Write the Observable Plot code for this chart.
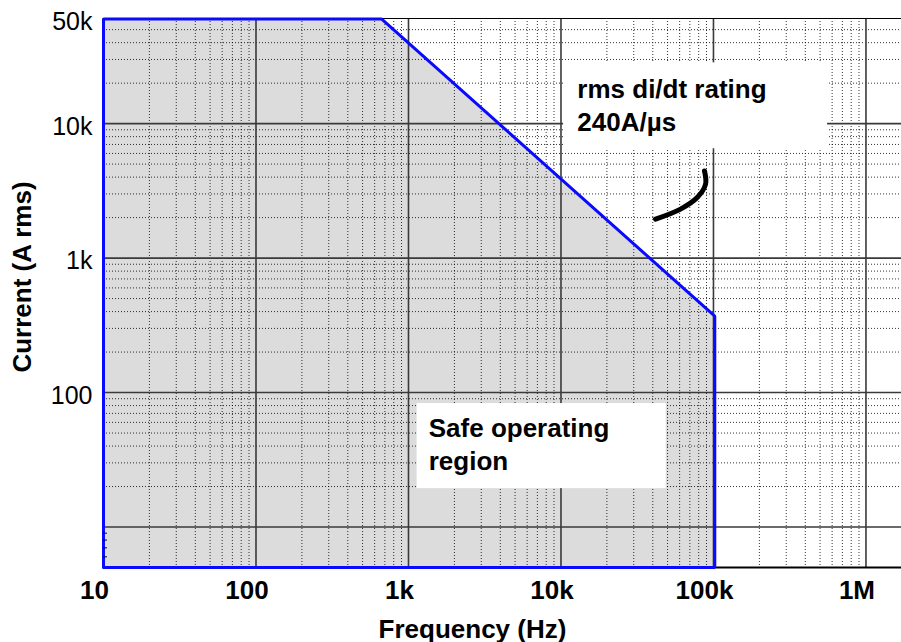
<!DOCTYPE html>
<html>
<head>
<meta charset="utf-8">
<script src="https://cdn.jsdelivr.net/npm/d3@7"></script>
<script src="https://cdn.jsdelivr.net/npm/@observablehq/plot@0.6"></script>
<style>
  html, body { margin: 0; padding: 0; background: #ffffff; }
  #chart svg { display: block; }
</style>
</head>
<body>
<div id="chart"></div>
<script>
// ---- Data ----
const xDomain = [10, 1.71e6];            // Frequency (Hz), log
const yDomain = [5, 60500];              // Current (A rms), log

const xTickValues = [10, 100, 1000, 10000, 100000, 1000000];
const xTickLabels = ["10", "100", "1k", "10k", "100k", "1M"];
const yTickValues = [60000, 10000, 1000, 100];
const yTickLabels = ["50k", "10k", "1k", "100"];

// Safe operating area boundary (blue curve)
const soaFreq    = [10, 665, 102000];
const soaCurrent = [60000, 60000, 370];

// Annotation arc (pointer)
const arcFreq    = [41700, 60800, 78200, 88700, 87300];
const arcCurrent = [1946, 2312, 2818, 3540, 4448];

// Annotation boxes and texts
const boxFreq1    = [10400, 1140];
const boxFreq2    = [560000, 49000];
const boxCurrent1 = [6500, 19.3];
const boxCurrent2 = [28300, 82.8];
const noteText    = ["rms di/dt rating\n240A/µs", "Safe operating\nregion"];
const noteFreq    = [12800, 1358];
const noteCurrent = [8750, 26.6];

// grid
const decades = [10, 100, 1000, 10000, 100000, 1000000];
const minorMult = [2, 3, 4, 5, 6, 7, 8, 9];
const smallYTicks = [6, 7, 8, 9];

// ---- build tables ----
const soa = soaFreq.map((f, i) => ({f, c: soaCurrent[i]}));
const outline = [{f: soaFreq[0], c: yDomain[0]}, ...soa, {f: soaFreq[soaFreq.length - 1], c: yDomain[0]}, {f: soaFreq[0], c: yDomain[0]}];
const arc = arcFreq.map((f, i) => ({f, c: arcCurrent[i]}));
const boxes = boxFreq1.map((f, i) => ({f1: f, f2: boxFreq2[i], c1: boxCurrent1[i], c2: boxCurrent2[i]}));
const notes = noteText.map((t, i) => ({t, f: noteFreq[i], c: noteCurrent[i]}));
const yTicks = yTickValues.map((v, i) => ({v, label: yTickLabels[i]}));

const xMinor = decades.flatMap(d => minorMult.map(m => d * m)).filter(v => v > xDomain[0] && v < xDomain[1]);
const yMinor = decades.flatMap(d => minorMult.map(m => d * m)).filter(v => v > yDomain[0] && v < 60000);
const xMajor = decades.filter(v => v > xDomain[0] && v < xDomain[1]);
const yMajor = decades.filter(v => v > yDomain[0] && v < yDomain[1]);

const xLabelMap = new Map(xTickValues.map((v, i) => [v, xTickLabels[i]]));

const font = "'Liberation Sans', Arial, Helvetica, sans-serif";

const chart = Plot.plot({
  width: 901,
  height: 642,
  marginLeft: 103,
  marginRight: 0,
  marginTop: 18,
  marginBottom: 75,
  style: {fontFamily: font, fontSize: "25px", background: "#ffffff", color: "#000"},
  x: {type: "log", domain: xDomain},
  y: {type: "log", domain: yDomain},
  marks: [
    Plot.areaY(soa, {x: "f", y1: yDomain[0], y2: "c", fill: "#dcdcdc"}),
    Plot.ruleX(xMinor, {stroke: "#000", strokeWidth: 1, strokeDasharray: "1,2", strokeOpacity: 0.8}),
    Plot.ruleY(yMinor, {stroke: "#000", strokeWidth: 1, strokeDasharray: "1,2", strokeOpacity: 0.8}),
    Plot.ruleX(xMajor, {stroke: "#3a3a3a", strokeWidth: 1.6}),
    Plot.ruleY(yMajor, {stroke: "#3a3a3a", strokeWidth: 1.6}),
    Plot.rect(boxes, {x1: "f1", x2: "f2", y1: "c1", y2: "c2", fill: "#ffffff"}),
    Plot.ruleY([yDomain[1]], {stroke: "#000", strokeWidth: 1.2}),
    Plot.ruleY([yDomain[0]], {stroke: "#000", strokeWidth: 2}),
    Plot.ruleX([xDomain[0]], {stroke: "#000", strokeWidth: 2}),
    Plot.line(outline, {x: "f", y: "c", stroke: "#0a0aff", strokeWidth: 3, strokeLinejoin: "miter"}),
    Plot.line(arc, {x: "f", y: "c", curve: "catmull-rom", stroke: "#000", strokeWidth: 5, strokeLinecap: "round"}),
    Plot.text(notes, {x: "f", y: "c", text: "t", textAnchor: "start", lineAnchor: "bottom", lineHeight: 1.27, fontSize: 26, fontWeight: "bold", fill: "#000"}),
    Plot.axisY({ticks: smallYTicks, tickSize: -4, tickFormat: () => "", label: null, stroke: "#000"}),
    Plot.text(yTicks, {y: "v", text: "label", frameAnchor: "left", textAnchor: "end", lineAnchor: "middle", dx: -11, dy: 3, fontSize: 25, fill: "#000"}),
    Plot.axisX({ticks: xTickValues, tickFormat: d => xLabelMap.get(d), tickSize: 0, tickPadding: 13, dx: -9, fontSize: 26, fontWeight: "bold", label: null, fill: "#000"}),
    Plot.text(["Current (A rms)"], {frameAnchor: "left", rotate: -90, textAnchor: "middle", lineAnchor: "middle", dx: -81, dy: -16, fontSize: 26, fontWeight: "bold", fill: "#000"}),
    Plot.text(["Frequency (Hz)"], {frameAnchor: "bottom", textAnchor: "middle", lineAnchor: "bottom", dx: -30, dy: 70, fontSize: 26, fontWeight: "bold", fill: "#000"})
  ]
});
document.getElementById("chart").appendChild(chart);
</script>
</body>
</html>
